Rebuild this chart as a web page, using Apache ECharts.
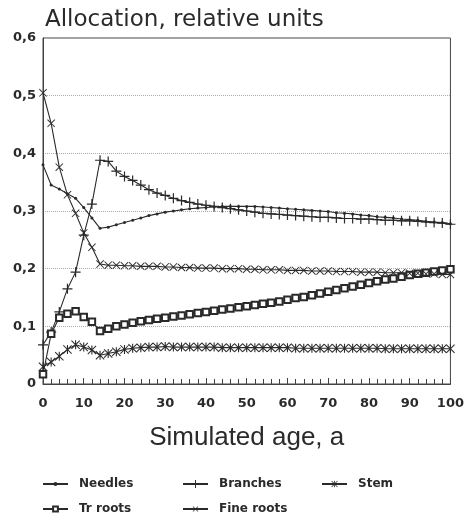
<!DOCTYPE html>
<html>
<head>
<meta charset="utf-8">
<script src="https://cdn.jsdelivr.net/npm/echarts@6/dist/echarts.min.js"></script>
<style>
html,body{margin:0;padding:0;background:#fff;}
#chart{width:467px;height:516px;}
</style>
</head>
<body>
<div id="chart"></div>
<script>
const ages = [0,2,4,6,8,10,12,14,16,18,20,22,24,26,28,30,32,34,36,38,40,42,44,46,48,50,52,54,56,58,60,62,64,66,68,70,72,74,76,78,80,82,84,86,88,90,92,94,96,98,100];
const needles = [0.380,0.345,0.338,0.330,0.322,0.306,0.288,0.270,0.272,0.276,0.280,0.284,0.288,0.292,0.295,0.298,0.300,0.302,0.304,0.305,0.306,0.307,0.308,0.308,0.308,0.308,0.308,0.307,0.306,0.305,0.304,0.303,0.302,0.301,0.300,0.299,0.297,0.296,0.295,0.293,0.292,0.290,0.289,0.288,0.286,0.285,0.284,0.282,0.281,0.280,0.278];
const branches = [0.068,0.090,0.125,0.165,0.194,0.258,0.312,0.388,0.386,0.369,0.360,0.353,0.345,0.337,0.331,0.327,0.322,0.318,0.315,0.312,0.310,0.308,0.306,0.304,0.302,0.300,0.298,0.296,0.295,0.294,0.293,0.292,0.291,0.290,0.289,0.289,0.288,0.287,0.287,0.286,0.286,0.285,0.284,0.284,0.283,0.283,0.282,0.281,0.280,0.279,0.277];
const stem = [0.030,0.038,0.048,0.060,0.068,0.064,0.059,0.050,0.053,0.056,0.060,0.062,0.063,0.064,0.064,0.065,0.064,0.064,0.064,0.064,0.064,0.064,0.063,0.063,0.063,0.063,0.063,0.063,0.063,0.063,0.063,0.062,0.062,0.062,0.062,0.062,0.062,0.062,0.062,0.062,0.062,0.062,0.061,0.061,0.061,0.061,0.061,0.061,0.061,0.061,0.061];
const trRoots = [0.017,0.087,0.115,0.122,0.126,0.116,0.108,0.092,0.096,0.100,0.103,0.106,0.109,0.111,0.113,0.115,0.117,0.119,0.121,0.123,0.125,0.127,0.129,0.131,0.133,0.135,0.137,0.139,0.141,0.143,0.146,0.149,0.151,0.154,0.157,0.160,0.163,0.166,0.169,0.172,0.175,0.178,0.181,0.183,0.186,0.189,0.191,0.193,0.195,0.197,0.199];
const fineRoots = [0.505,0.452,0.376,0.328,0.296,0.262,0.237,0.208,0.206,0.206,0.205,0.205,0.204,0.204,0.204,0.203,0.203,0.202,0.202,0.201,0.201,0.201,0.200,0.200,0.200,0.199,0.199,0.198,0.198,0.198,0.197,0.197,0.197,0.196,0.196,0.196,0.195,0.195,0.195,0.194,0.194,0.194,0.193,0.193,0.193,0.192,0.192,0.191,0.191,0.190,0.190];
const seriesNames = ['Needles','Branches','Stem','Tr roots','Fine roots'];
const yTicks = ['0','0,1','0,2','0,3','0,4','0,5','0,6'];

const INK = '#2a2a2a';
const PLUS = 'path://M0,4.4H10V5.6H0Z M4.4,0H5.6V10H4.4Z';
const CROSS = 'path://M0,0.8L0.8,0L10,9.2L9.2,10Z M0.8,10L0,9.2L9.2,0L10,0.8Z';
const STAR = 'path://M0,0.8L0.8,0L10,9.2L9.2,10Z M0.8,10L0,9.2L9.2,0L10,0.8Z M4.4,0H5.6V10H4.4Z';

function pairs(arr){ return ages.map((a,i)=>[a,arr[i]]); }
function mk(name, arr, symbol, size, extraItem){
  return {
    name, type:'line', data: pairs(arr), symbol, symbolSize: size,
    showAllSymbol: true,
    lineStyle:{color:INK, width:1.1},
    itemStyle: Object.assign({color:INK, borderWidth:0}, extraItem||{}),
    emphasis:{disabled:true}
  };
}

const chart = echarts.init(document.getElementById('chart'), null, {renderer:'canvas'});
const legendText = {fontFamily:'DejaVu Sans', fontSize:12, fontWeight:'bold', color:INK, padding:[0,0,0,6]};
function lg(name, left, top, h){
  return {data:[name], left, top, itemWidth:25, itemHeight:h, padding:0, itemGap:0, textStyle:legendText, selectedMode:false};
}
chart.setOption({
  animation:false,
  title:{text:'Allocation, relative units', left:40, top:4,
    textStyle:{fontFamily:'DejaVu Sans', fontSize:23, fontWeight:'normal', color:INK}},
  grid:{left:43, top:38, width:413, height:346, show:true, borderColor:'#444', borderWidth:1},
  legend:[
    lg('Needles',42,478,5), lg('Branches',182,478,10), lg('Stem',321,478,8),
    lg('Tr roots',42,503,6), lg('Fine roots',182,503,7)
  ],
  xAxis:{type:'value', min:0, max:100, interval:10,
    name:'Simulated age, a', nameLocation:'middle', nameGap:41,
    nameTextStyle:{fontFamily:'Liberation Sans', fontSize:26, color:INK},
    axisLine:{lineStyle:{color:'#444', width:1}},
    axisTick:{inside:true, length:6, lineStyle:{color:'#444'}},
    minorTick:{show:true, splitNumber:5, length:5, lineStyle:{color:'#444'}},
    axisLabel:{margin:13, fontFamily:'DejaVu Sans', fontWeight:'bold', fontSize:13, color:INK},
    splitLine:{show:false}
  },
  yAxis:{type:'value', min:0, max:0.6, interval:0.1,
    axisLine:{show:true, lineStyle:{color:'#444'}},
    axisTick:{show:false},
    axisLabel:{margin:7, fontFamily:'DejaVu Sans', fontWeight:'bold', fontSize:13, color:INK,
      formatter:(v)=>yTicks[Math.round(v*10)]},
    splitLine:{lineStyle:{type:'dotted', color:'#aaa', width:1}}
  },
  series:[
    mk(seriesNames[0], needles, 'circle', 3),
    mk(seriesNames[1], branches, PLUS, 10),
    mk(seriesNames[2], stem, STAR, 9),
    mk(seriesNames[3], trRoots, 'emptyRect', 6.5, {borderWidth:1, borderColor:INK}),
    mk(seriesNames[4], fineRoots, CROSS, 8)
  ]
});
</script>
</body>
</html>
